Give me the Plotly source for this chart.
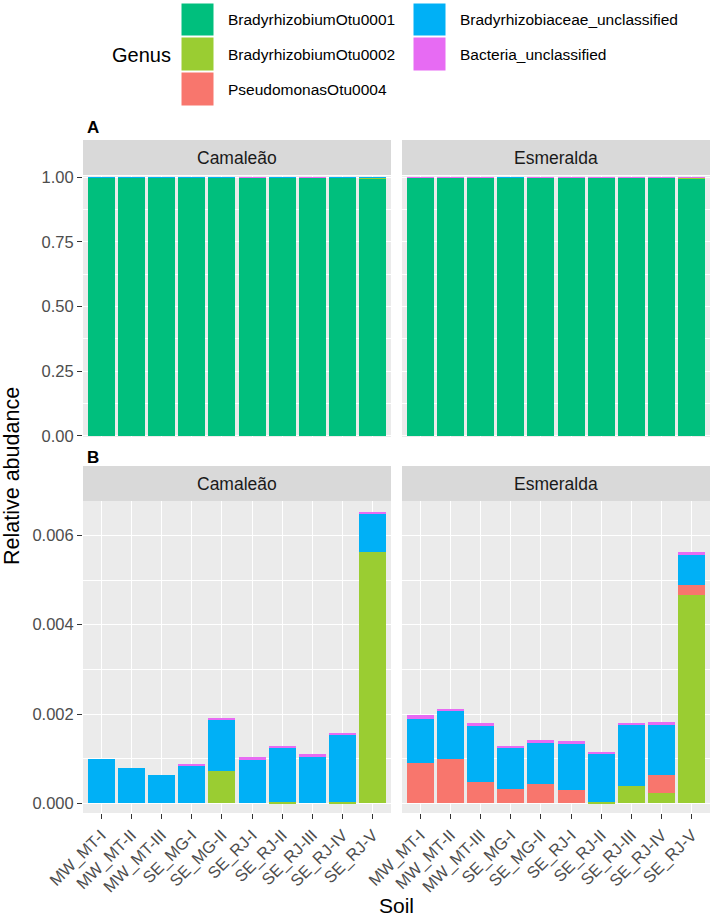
import plotly.graph_objects as go

# ---------------- data ----------------
soils = ["MW_MT-I", "MW_MT-II", "MW_MT-III", "SE_MG-I", "SE_MG-II",
         "SE_RJ-I", "SE_RJ-II", "SE_RJ-III", "SE_RJ-IV", "SE_RJ-V"]
cultivars = ["Camaleão", "Esmeralda"]
genera = ["BradyrhizobiumOtu0001", "BradyrhizobiumOtu0002", "PseudomonasOtu0004",
          "Bradyrhizobiaceae_unclassified", "Bacteria_unclassified"]

# Camaleão
cam_otu0001 = [0.99901, 0.99920, 0.99937, 0.99913, 0.99809, 0.99897, 0.99873, 0.99890, 0.99842, 0.99348]
cam_otu0002 = [0.0, 0.0, 0.0, 0.0, 0.00073, 0.0, 0.00003, 0.0, 0.00003, 0.00563]
cam_pseudo = [0.0, 0.0, 0.0, 0.0, 0.0, 0.0, 0.0, 0.0, 0.0, 0.0]
cam_bradyrhizobiaceae = [0.00099, 0.00080, 0.00063, 0.00084, 0.00115, 0.00098, 0.00122, 0.00104, 0.00152, 0.00087]
cam_bacteria = [0.0, 0.0, 0.0, 0.00003, 0.00003, 0.00005, 0.00002, 0.00006, 0.00003, 0.00002]

# Esmeralda
esm_otu0001 = [0.99803, 0.99788, 0.99821, 0.99872, 0.99858, 0.99860, 0.99884, 0.99820, 0.99819, 0.99438]
esm_otu0002 = [0.0, 0.0, 0.0, 0.0, 0.0, 0.0, 0.00003, 0.00039, 0.00022, 0.00466]
esm_pseudo = [0.00090, 0.00099, 0.00048, 0.00031, 0.00043, 0.00029, 0.0, 0.0, 0.00041, 0.00022]
esm_bradyrhizobiaceae = [0.00099, 0.00108, 0.00127, 0.00095, 0.00093, 0.00103, 0.00109, 0.00137, 0.00114, 0.00069]
esm_bacteria = [0.00008, 0.00005, 0.00004, 0.00002, 0.00006, 0.00008, 0.00004, 0.00004, 0.00004, 0.00005]

panel_a_ticks = [0.0, 0.25, 0.5, 0.75, 1.0]
panel_b_ticks = [0.0, 0.002, 0.004, 0.006]

# ---------------- styling ----------------
colors = {
    "BradyrhizobiumOtu0001": "#00BF7D",
    "BradyrhizobiumOtu0002": "#9ACD32",
    "PseudomonasOtu0004": "#F8766D",
    "Bradyrhizobiaceae_unclassified": "#00B0F6",
    "Bacteria_unclassified": "#E76BF3",
}
FONT = "Liberation Sans, Arial, Helvetica, sans-serif"
W, H = 712, 918


def px(x):
    return x / W


def py(y):
    return 1 - y / H


data = {
    "Camaleão": [cam_otu0001, cam_otu0002, cam_pseudo, cam_bradyrhizobiaceae, cam_bacteria],
    "Esmeralda": [esm_otu0001, esm_otu0002, esm_pseudo, esm_bradyrhizobiaceae, esm_bacteria],
}

# axis ids: panel A left (1), A right (2), B left (3), B right (4)
panels = [
    ("A", "Camaleão", "x", "y"),
    ("A", "Esmeralda", "x2", "y2"),
    ("B", "Camaleão", "x3", "y3"),
    ("B", "Esmeralda", "x4", "y4"),
]

fig = go.Figure()
for row, cult, xa, ya in panels:
    series = data[cult]
    for gi, g in enumerate(genera):
        if row == "B" and gi == 0:
            continue
        fig.add_trace(go.Bar(
            x=soils, y=series[gi], name=g, width=0.9,
            marker=dict(color=colors[g], line=dict(width=0)),
            xaxis=xa, yaxis=ya, showlegend=False,
            hovertemplate=f"{cult}<br>%{{x}}<br>{g}: %{{y}}<extra></extra>",
        ))

# domains (pixels)
xl = (px(83), px(391))
xr = (px(402), px(710))
ya_dom = (py(437), py(176))
yb_dom = (py(813), py(501))

tickfont = dict(family=FONT, size=16.5, color="#4D4D4D")
xtickfont = dict(family=FONT, size=16.5, color="#4D4D4D")


def xaxis(dom, anchor, labels):
    d = dict(domain=dom, anchor=anchor, type="category",
             categoryorder="array", categoryarray=soils,
             range=[-0.6, 9.6], showgrid=True, gridcolor="white", gridwidth=1.1,
             zeroline=False, showline=False, fixedrange=True, automargin=False)
    if labels:
        d.update(showticklabels=True, ticks="outside", ticklen=5, tickwidth=1.1,
                 tickcolor="#333333", tickangle=-45, tickfont=xtickfont)
    else:
        d.update(showticklabels=False, ticks="")
    return d


def yaxis(dom, anchor, rng, ticks, fmt, minor_dtick, labels):
    d = dict(domain=dom, anchor=anchor, range=rng, tickmode="array", tickvals=ticks,
             ticktext=[format(t, fmt) for t in ticks],
             showgrid=True, gridcolor="white", gridwidth=1.1,
             minor=dict(tick0=0, dtick=minor_dtick, showgrid=True, gridcolor="white",
                        gridwidth=0.55, ticks=""),
             zeroline=False, showline=False, fixedrange=True, automargin=False)
    if labels:
        d.update(showticklabels=True, ticks="outside", ticklen=5, tickwidth=1.1,
                 tickcolor="#333333", tickfont=tickfont)
    else:
        d.update(showticklabels=False, ticks="")
    return d


ra = [-0.004, 1.004]
rb = [-0.000217, 0.00677]

fig.update_layout(
    width=W, height=H, autosize=False,
    margin=dict(l=0, r=0, t=0, b=0),
    paper_bgcolor="white", plot_bgcolor="#EBEBEB",
    barmode="stack", bargap=0,
    font=dict(family=FONT, color="#1A1A1A"),
    showlegend=False,
    xaxis=xaxis(xl, "y", False),
    xaxis2=xaxis(xr, "y2", False),
    xaxis3=xaxis(xl, "y3", True),
    xaxis4=xaxis(xr, "y4", True),
    yaxis=yaxis(ya_dom, "x", ra, panel_a_ticks, ".2f", 0.125, True),
    yaxis2=yaxis(ya_dom, "x2", ra, panel_a_ticks, ".2f", 0.125, False),
    yaxis3=yaxis(yb_dom, "x3", rb, panel_b_ticks, ".3f", 0.001, True),
    yaxis4=yaxis(yb_dom, "x4", rb, panel_b_ticks, ".3f", 0.001, False),
)

shapes = []
annotations = []

# facet strips
for (y0, y1) in [(140, 175), (466, 501)]:
    for (x0, x1), cult in zip([(83, 391), (402, 710)], cultivars):
        shapes.append(dict(type="rect", xref="paper", yref="paper",
                           x0=px(x0), x1=px(x1), y0=py(y1), y1=py(y0),
                           fillcolor="#D9D9D9", line=dict(width=0), layer="below"))
        annotations.append(dict(xref="paper", yref="paper", x=px((x0 + x1) / 2),
                                y=py((y0 + y1) / 2), text=cult, showarrow=False,
                                xanchor="center", yanchor="middle",
                                font=dict(family=FONT, size=17.5, color="#1A1A1A")))

# panel tags
for tag, ypix in [("A", 128), ("B", 457)]:
    annotations.append(dict(xref="paper", yref="paper", x=px(85), y=py(ypix), text=f"<b>{tag}</b>",
                            showarrow=False, xanchor="left", yanchor="middle",
                            font=dict(family=FONT, size=17, color="black")))

# axis titles
annotations.append(dict(xref="paper", yref="paper", x=px(397), y=py(905), text="Soil",
                        showarrow=False, xanchor="center", yanchor="middle",
                        font=dict(family=FONT, size=21, color="black")))
annotations.append(dict(xref="paper", yref="paper", x=px(12), y=py(476), text="Relative abudance",
                        textangle=-90, showarrow=False, xanchor="center", yanchor="middle",
                        font=dict(family=FONT, size=21.5, color="black")))

# legend (manual, two columns, column-major like ggplot)
annotations.append(dict(xref="paper", yref="paper", x=px(110), y=py(55), text="Genus",
                        showarrow=False, xanchor="left", yanchor="middle",
                        font=dict(family=FONT, size=20, color="black")))
key_cols = [(181, 214, 226), (413, 446, 458)]
key_rows = [(3, 36), (37, 71), (72, 106)]
for i, g in enumerate(genera):
    col, r = divmod(i, 3)
    kx0, kx1, tx = key_cols[col]
    ky0, ky1 = key_rows[r]
    shapes.append(dict(type="rect", xref="paper", yref="paper",
                       x0=px(kx0), x1=px(kx1), y0=py(ky1), y1=py(ky0),
                       fillcolor=colors[g], line=dict(color="white", width=1)))
    annotations.append(dict(xref="paper", yref="paper", x=px(tx), y=py((ky0 + ky1) / 2),
                            text=g, showarrow=False, xanchor="left", yanchor="middle",
                            font=dict(family=FONT, size=15.5, color="black")))

fig.update_layout(shapes=shapes, annotations=annotations)
fig.write_html(
    "out.html",
    config={"displayModeBar": False},
    post_script="document.body.style.margin='0';document.body.style.overflow='hidden';",
)
